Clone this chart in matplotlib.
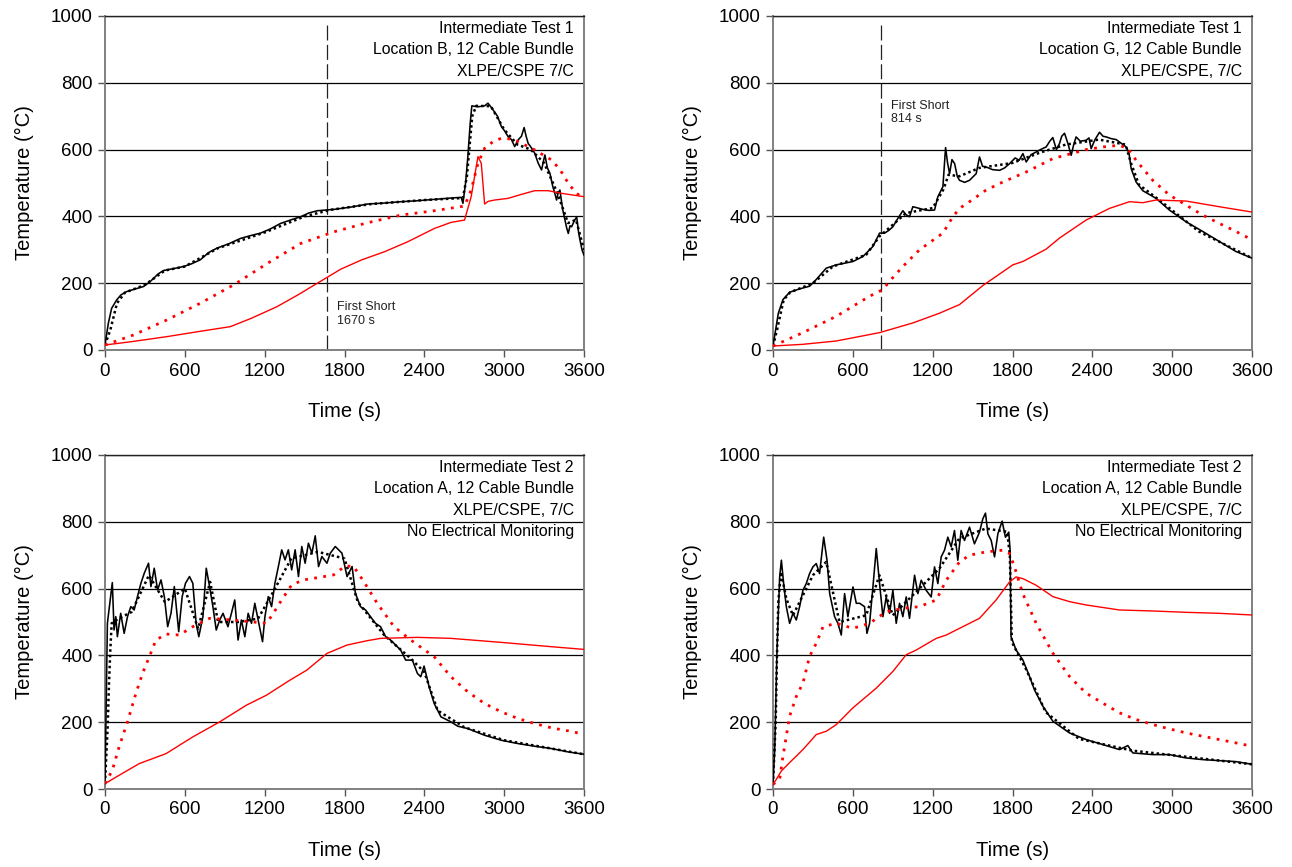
import numpy as np
import matplotlib
matplotlib.use('Agg')
import matplotlib.pyplot as plt

plt.rcParams['font.family'] = ['Liberation Sans', 'DejaVu Sans']

# ---- Intermediate Test 1, Location B  (time s, temperature C) ----
b1_black = [(0, 15), (25, 80), (50, 125), (88, 150), (120, 165), (163, 175), (230, 183),
            (289, 190), (340, 205), (400, 228), (440, 238), (520, 244), (591, 250),
            (650, 258), (716, 270), (780, 292), (842, 305), (930, 318), (1018, 334),
            (1090, 342), (1169, 350), (1240, 362), (1320, 379), (1400, 390), (1471, 399),
            (1530, 410), (1596, 417), (1722, 421), (1850, 428), (1973, 437), (2100, 440),
            (2225, 444), (2350, 447), (2476, 451), (2600, 455), (2677, 457), (2690, 439),
            (2710, 500), (2727, 579), (2745, 680), (2757, 731), (2800, 728), (2853, 731),
            (2878, 739), (2900, 728), (2916, 719), (2950, 700), (2979, 669), (3005, 655),
            (3029, 639), (3055, 630), (3079, 609), (3105, 629), (3130, 640), (3150, 666),
            (3165, 640), (3180, 619), (3205, 605), (3230, 589), (3255, 560), (3281, 539),
            (3295, 565), (3306, 584), (3325, 545), (3344, 529), (3365, 490), (3380, 470),
            (3394, 449), (3405, 470), (3419, 479), (3440, 420), (3457, 389), (3470, 365),
            (3482, 349), (3495, 372), (3507, 369), (3525, 385), (3545, 399), (3560, 350),
            (3570, 329), (3585, 300), (3600, 284)]
b1_black_dot = [(0, 15), (40, 60), (90, 140), (150, 172), (300, 195), (450, 238),
                (600, 250), (850, 305), (1200, 352), (1500, 400), (1700, 420), (2000, 437),
                (2400, 449), (2690, 455), (2720, 520), (2760, 700), (2790, 731), (2900, 730),
                (3000, 660), (3100, 615), (3200, 600), (3300, 560), (3400, 470), (3480, 380),
                (3540, 390), (3600, 300)]
b1_red_dot = [(0, 15), (214, 45), (465, 90), (716, 140), (967, 195), (1219, 259),
              (1471, 319), (1722, 354), (1973, 381), (2225, 404), (2476, 417), (2702, 431),
              (2752, 479), (2803, 559), (2853, 604), (2920, 625), (2979, 634), (3040, 632),
              (3105, 624), (3230, 599), (3356, 569), (3420, 540), (3482, 499), (3540, 470),
              (3600, 454)]
b1_red = [(0, 15), (200, 25), (465, 40), (700, 55), (943, 70), (1100, 95), (1294, 130),
          (1450, 165), (1596, 200), (1772, 242), (1930, 270), (2099, 294), (2275, 324),
          (2476, 364), (2600, 382), (2702, 389), (2752, 459), (2803, 579), (2828, 559),
          (2853, 437), (2880, 445), (2928, 449), (3029, 454), (3130, 466), (3230, 477),
          (3331, 477), (3432, 469), (3600, 459)]

# ---- Intermediate Test 1, Location G ----
g1_black = [(0, 12), (40, 110), (75, 151), (125, 173), (200, 183), (275, 191), (325, 211),
            (400, 245), (476, 255), (540, 260), (601, 265), (676, 280), (751, 310),
            (801, 350), (839, 350), (870, 358), (901, 369), (940, 395), (976, 417),
            (1000, 405), (1026, 399), (1051, 429), (1090, 425), (1127, 421), (1170, 418),
            (1214, 419), (1239, 459), (1277, 489), (1297, 606), (1312, 560), (1327, 528),
            (1345, 570), (1365, 558), (1385, 520), (1402, 508), (1440, 502), (1477, 508),
            (1527, 528), (1552, 578), (1575, 550), (1602, 548), (1650, 540), (1703, 538),
            (1740, 545), (1778, 558), (1820, 575), (1850, 568), (1878, 588), (1903, 563),
            (1940, 585), (1978, 593), (2010, 600), (2053, 608), (2080, 625), (2103, 636),
            (2130, 600), (2153, 618), (2170, 640), (2191, 649), (2215, 620), (2241, 583),
            (2260, 615), (2278, 638), (2310, 625), (2353, 628), (2375, 635), (2391, 603),
            (2420, 630), (2454, 652), (2480, 640), (2504, 638), (2540, 633), (2579, 630),
            (2620, 618), (2654, 608), (2675, 590), (2692, 543), (2729, 503), (2779, 477),
            (2879, 454), (2979, 419), (3104, 384), (3229, 355), (3354, 325), (3479, 295),
            (3600, 275)]
g1_black_dot = [(0, 12), (30, 60), (80, 150), (130, 173), (300, 200), (450, 250),
                (700, 285), (800, 340), (1000, 410), (1200, 425), (1280, 480), (1320, 525),
                (1400, 520), (1550, 545), (1800, 560), (2000, 590), (2200, 615), (2450, 630),
                (2650, 615), (2690, 560), (2750, 495), (2900, 450), (3200, 355), (3600, 275)]
g1_red_dot = [(0, 12), (225, 52), (476, 101), (726, 161), (826, 181), (876, 206),
              (976, 250), (1101, 300), (1277, 350), (1352, 399), (1402, 424), (1477, 444),
              (1602, 479), (1728, 503), (1903, 533), (2103, 573), (2353, 600), (2479, 608),
              (2604, 613), (2667, 603), (2729, 568), (2854, 508), (2979, 464), (3104, 434),
              (3229, 404), (3354, 379), (3479, 355), (3600, 330)]
g1_red = [(0, 12), (225, 17), (476, 27), (801, 52), (1051, 81), (1250, 110), (1402, 136),
          (1577, 193), (1803, 255), (1878, 265), (2053, 302), (2153, 335), (2353, 389),
          (2529, 424), (2679, 444), (2779, 441), (2879, 449), (3104, 446), (3354, 429),
          (3600, 413)]

# ---- Intermediate Test 2, Location A (left) ----
a2_black = [(0, 16), (18, 496), (30, 536), (55, 618), (68, 476), (81, 516), (93, 456),
            (118, 526), (144, 466), (169, 516), (194, 546), (219, 536), (244, 576),
            (270, 616), (295, 646), (327, 676), (345, 606), (370, 661), (395, 596),
            (421, 626), (446, 576), (471, 486), (496, 526), (521, 606), (554, 471),
            (580, 576), (605, 616), (635, 636), (660, 616), (685, 496), (705, 456),
            (736, 516), (761, 661), (786, 606), (811, 546), (836, 476), (862, 506),
            (887, 526), (924, 486), (950, 526), (975, 566), (1000, 446), (1025, 506),
            (1051, 456), (1076, 526), (1101, 496), (1126, 556), (1151, 506), (1184, 441),
            (1202, 516), (1227, 576), (1252, 546), (1277, 616), (1303, 666), (1328, 716),
            (1353, 686), (1378, 716), (1403, 656), (1429, 716), (1454, 636), (1479, 726),
            (1504, 676), (1529, 736), (1555, 706), (1580, 758), (1605, 666), (1630, 696),
            (1668, 676), (1693, 706), (1731, 726), (1756, 716), (1781, 706), (1819, 636),
            (1857, 666), (1882, 586), (1920, 546), (1958, 536), (1995, 516), (2033, 496),
            (2071, 486), (2109, 456), (2146, 446), (2184, 431), (2222, 416), (2260, 386),
            (2310, 386), (2348, 346), (2373, 336), (2398, 368), (2436, 306), (2474, 256),
            (2525, 216), (2600, 201), (2651, 188), (2726, 181), (2852, 161), (2978, 146),
            (3104, 136), (3230, 128), (3356, 121), (3482, 111), (3600, 104)]
a2_black_dot = [(0, 16), (20, 186), (30, 316), (40, 416), (50, 496), (100, 510),
                (200, 530), (330, 640), (450, 560), (600, 600), (700, 480), (790, 620),
                (850, 500), (1000, 500), (1150, 510), (1250, 580), (1400, 690), (1600, 710),
                (1800, 690), (1900, 560), (2100, 460), (2300, 390), (2400, 350), (2500, 235),
                (2700, 185), (3000, 146), (3600, 104)]
a2_red_dot = [(0, 16), (55, 56), (106, 126), (169, 201), (232, 286), (282, 346),
              (333, 396), (383, 446), (459, 464), (559, 461), (660, 486), (786, 511),
              (962, 506), (1088, 501), (1214, 496), (1265, 526), (1328, 566), (1403, 611),
              (1491, 626), (1617, 634), (1718, 641), (1806, 668), (1869, 666), (1945, 621),
              (2046, 556), (2172, 486), (2298, 446), (2474, 396), (2600, 336), (2726, 291),
              (2852, 256), (2978, 231), (3104, 211), (3230, 196), (3356, 183), (3482, 174),
              (3600, 164)]
a2_red = [(0, 16), (106, 41), (257, 76), (459, 106), (660, 156), (862, 201), (1063, 251),
          (1214, 281), (1390, 326), (1517, 356), (1668, 406), (1819, 431), (1970, 444),
          (2071, 451), (2348, 454), (2600, 451), (2978, 439), (3356, 426), (3600, 418)]

# ---- Intermediate Test 2, Location A (right) ----
a2r_black = [(0, 14), (13, 118), (30, 416), (50, 635), (63, 685), (80, 615), (100, 546),
             (125, 496), (150, 526), (175, 506), (200, 546), (225, 595), (250, 615),
             (275, 645), (300, 665), (325, 675), (350, 645), (381, 754), (406, 685),
             (426, 585), (463, 516), (488, 496), (513, 461), (538, 585), (563, 516),
             (601, 605), (626, 556), (651, 556), (688, 546), (706, 466), (726, 496),
             (751, 605), (776, 720), (801, 615), (826, 516), (851, 575), (876, 526),
             (901, 595), (926, 496), (951, 556), (976, 516), (1001, 575), (1026, 511),
             (1064, 640), (1089, 585), (1114, 625), (1151, 595), (1189, 575), (1214, 665),
             (1239, 615), (1264, 695), (1289, 715), (1314, 754), (1339, 725), (1364, 774),
             (1389, 685), (1414, 774), (1439, 744), (1477, 784), (1514, 734), (1552, 769),
             (1577, 809), (1597, 826), (1615, 764), (1640, 744), (1665, 695), (1690, 764),
             (1722, 802), (1747, 754), (1772, 769), (1782, 715), (1789, 456), (1827, 416),
             (1877, 387), (1928, 337), (1965, 297), (2028, 248), (2103, 203), (2228, 168),
             (2353, 148), (2479, 133), (2604, 118), (2667, 130), (2704, 108), (2854, 103),
             (2979, 103), (3104, 93), (3229, 88), (3354, 85), (3479, 82), (3600, 74)]
a2r_black_dot = [(0, 14), (20, 200), (30, 400), (40, 560), (60, 650), (100, 570),
                 (150, 520), (300, 640), (400, 680), (500, 500), (700, 520), (800, 640),
                 (900, 520), (1100, 600), (1250, 660), (1400, 750), (1600, 780), (1760, 770),
                 (1780, 700), (1795, 440), (1900, 360), (2050, 230), (2300, 150), (2700, 115),
                 (3600, 74)]
a2r_red_dot = [(0, 14), (50, 29), (75, 98), (125, 218), (175, 277), (225, 317), (275, 397),
               (325, 436), (376, 486), (476, 496), (601, 481), (726, 496), (851, 531),
               (976, 541), (1101, 546), (1227, 566), (1302, 625), (1402, 680), (1477, 700),
               (1602, 710), (1728, 715), (1778, 705), (1815, 665), (1877, 585), (1978, 496),
               (2103, 407), (2228, 337), (2353, 287), (2479, 257), (2604, 228), (2729, 208),
               (2854, 193), (2979, 180), (3104, 168), (3229, 158), (3354, 148), (3479, 138),
               (3600, 128)]
a2r_red = [(0, 14), (25, 29), (63, 54), (125, 79), (225, 118), (325, 163), (401, 173),
           (476, 193), (601, 243), (776, 302), (901, 352), (1001, 402), (1076, 416),
           (1227, 451), (1302, 461), (1477, 496), (1552, 511), (1677, 566), (1778, 620),
           (1827, 635), (1877, 630), (1978, 610), (2103, 576), (2228, 561), (2353, 551),
           (2604, 536), (2854, 533), (3104, 529), (3354, 526), (3600, 521)]

titles = [["Intermediate Test 1", "Location B, 12 Cable Bundle", "XLPE/CSPE 7/C"],
          ["Intermediate Test 1", "Location G, 12 Cable Bundle", "XLPE/CSPE, 7/C"],
          ["Intermediate Test 2", "Location A, 12 Cable Bundle", "XLPE/CSPE, 7/C",
           "No Electrical Monitoring"],
          ["Intermediate Test 2", "Location A, 12 Cable Bundle", "XLPE/CSPE, 7/C",
           "No Electrical Monitoring"]]
shorts = [(1670, "First Short\n1670 s", 1745, 108), (814, "First Short\n814 s", 884, 711),
          None, None]

panels = [(b1_black, b1_black_dot, b1_red_dot, b1_red),
          (g1_black, g1_black_dot, g1_red_dot, g1_red),
          (a2_black, a2_black_dot, a2_red_dot, a2_red),
          (a2r_black, a2r_black_dot, a2r_red_dot, a2r_red)]

W, H = 1292, 867
boxes = [(105, 16), (773, 16), (105, 455), (773, 455)]  # left, top in pixels
AW, AH = 479, 334

fig = plt.figure(figsize=(W / 100, H / 100), dpi=100)


def arr(pts):
    a = np.array(pts, dtype=float)
    return a[:, 0], a[:, 1]


for i, (blk, blk_dot, red_dot, red) in enumerate(panels):
    px, py = boxes[i]
    ax = fig.add_axes([px / W, 1 - (py + AH) / H, AW / W, AH / H])

    ax.plot(*arr(blk_dot), color='black', lw=1.8, ls=(0, (1, 1.2)), zorder=3)
    ax.plot(*arr(blk), color='black', lw=1.15, zorder=4)
    ax.plot(*arr(red), color='#ff0000', lw=1.0, zorder=5)
    ax.plot(*arr(red_dot), color='#ff0000', lw=2.0, ls=(0, (1, 2.3)), zorder=6)

    if shorts[i] is not None:
        ts, txt, tx, ty = shorts[i]
        ax.plot([ts, ts], [0, 980], color='#222222', lw=0.9, dashes=(12, 3.5), zorder=2)
        ax.text(tx, ty, txt, fontsize=9, ha='left', va='center', linespacing=1.2,
                color='#222222')

    for k, line in enumerate(titles[i]):
        off = 12.5 + 21.3 * k
        ax.text(0.979, 1 - off / AH, line, transform=ax.transAxes, fontsize=11.4,
                ha='right', va='center')

    ax.set_xlim(0, 3600)
    ax.set_ylim(0, 1000)
    ax.set_xticks(np.arange(0, 3601, 600))
    ax.set_yticks(np.arange(0, 1001, 200))
    ax.yaxis.grid(True, color='black', lw=0.9)
    ax.set_axisbelow(True)
    ax.tick_params(direction='out', length=5, width=1, labelsize=13.5, color='#555555',
                   pad=4)
    for s in ('left', 'bottom', 'right'):
        ax.spines[s].set_color('#808080')
        ax.spines[s].set_linewidth(1.4)
    ax.spines['top'].set_color('#222222')
    ax.spines['top'].set_linewidth(1.0)
    ax.set_xlabel('Time (s)', fontsize=14.5, labelpad=16)
    ax.set_ylabel('Temperature (°C)', fontsize=14.5, labelpad=12)

fig.savefig('out.png', dpi=100)
